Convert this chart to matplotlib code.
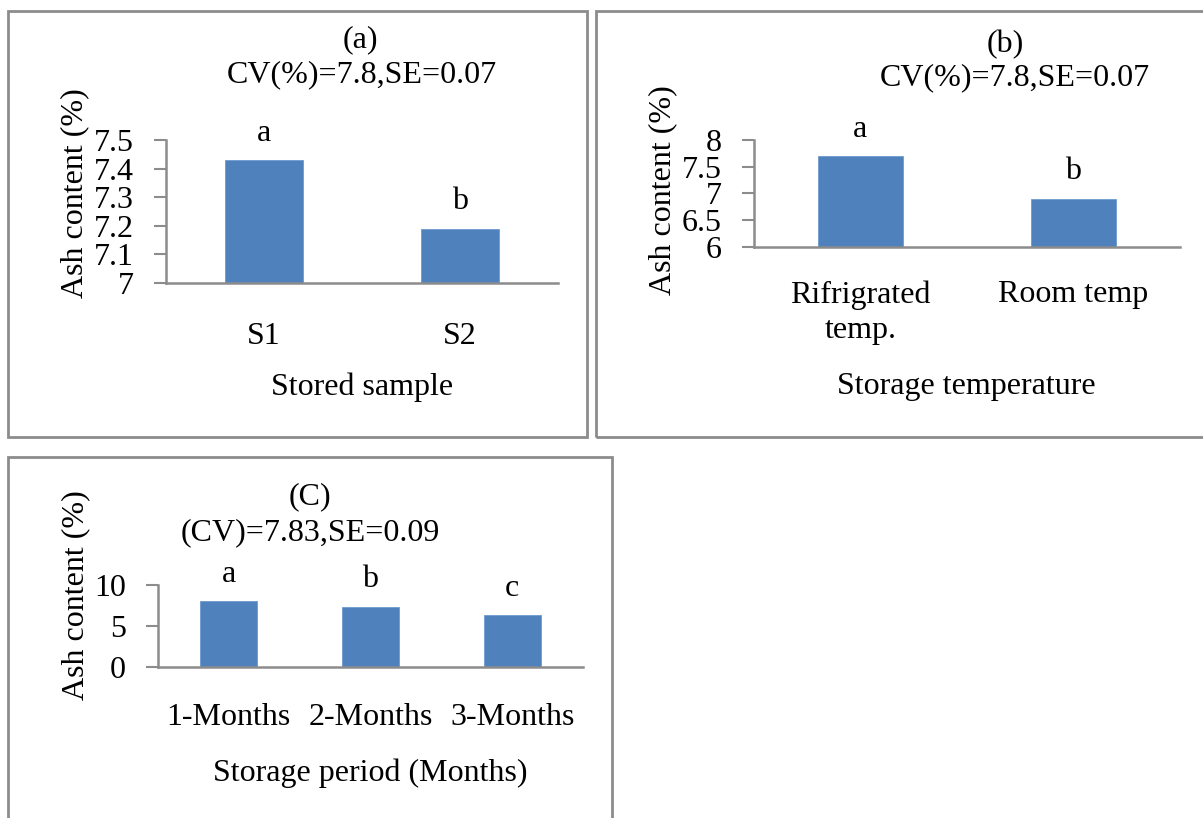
import numpy as np
import matplotlib
matplotlib.use("Agg")
import matplotlib.pyplot as plt
from matplotlib.patches import Rectangle

plt.rcParams["font.family"] = ["Liberation Serif", "DejaVu Serif"]

# panel (a) - stored sample
a_categories = ["S1", "S2"]
a_values = [7.43, 7.19]
a_letters = ["a", "b"]
a_yticks = [7, 7.1, 7.2, 7.3, 7.4, 7.5]
a_yticklabels = ["7", "7.1", "7.2", "7.3", "7.4", "7.5"]

# panel (b) - storage temperature
b_categories = ["Rifrigrated\ntemp.", "Room temp"]
b_values = [7.7, 6.9]
b_letters = ["a", "b"]
b_yticks = [6, 6.5, 7, 7.5, 8]
b_yticklabels = ["6", "6.5", "7", "7.5", "8"]

# panel (c) - storage period
c_categories = ["1-Months", "2-Months", "3-Months"]
c_values = [8.05, 7.35, 6.3]
c_letters = ["a", "b", "c"]
c_yticks = [0, 5, 10]
c_yticklabels = ["0", "5", "10"]

W, H = 1203, 818
FS = 23
BAR = "#4f81bd"
GREY = "#8c8c8c"

fig = plt.figure(figsize=(W / 100, H / 100), dpi=100)


def px(x, y):
    return x / W, 1 - y / H


def box(x0, y0, x1, y1):
    l, t = px(x0, y0)
    r, b = px(x1, y1)
    fig.patches.append(Rectangle((l, b), r - l, t - b, transform=fig.transFigure,
                                 fill=False, edgecolor=GREY, linewidth=2))


def panel(rect, cats, vals, letters, yticks, yticklabels, xpad):
    x0, y0, x1, y1 = rect
    l, t = px(x0, y0)
    r, b = px(x1, y1)
    ax = fig.add_axes([l, b, r - l, t - b])
    x = np.arange(len(cats))
    ax.bar(x, vals, 0.4, color=BAR, edgecolor="#6f9ad0", linewidth=0.6, zorder=2)
    for xi, v, s in zip(x, vals, letters):
        ax.annotate(s, (xi, v), xytext=(0, 14), textcoords="offset points",
                    ha="center", va="baseline", fontsize=FS)
    ax.set_xlim(-0.5, len(cats) - 0.5)
    ax.set_ylim(yticks[0], yticks[-1])
    ax.set_yticks(yticks)
    ax.set_yticklabels(yticklabels, fontsize=FS)
    ax.set_xticks(x)
    ax.set_xticklabels(cats, fontsize=FS, linespacing=1.3)
    for sp in ["top", "right"]:
        ax.spines[sp].set_visible(False)
    for sp in ["left", "bottom"]:
        ax.spines[sp].set_color(GREY)
        ax.spines[sp].set_linewidth(1.8)
    ax.tick_params(axis="y", length=9, width=1.5, color=GREY, pad=14)
    ax.tick_params(axis="x", length=0, pad=xpad)
    ax.set_facecolor("none")
    return ax


def label(x, y, s, **kw):
    fx, fy = px(x, y)
    fig.text(fx, fy, s, ha="center", va="center", fontsize=FS, **kw)


box(8, 11, 587, 437)
box(596, 11, 1215, 437)
box(8, 457, 612, 830)

panel((166, 140, 558, 283), a_categories, a_values, a_letters, a_yticks, a_yticklabels, 28)
panel((754, 140, 1180, 247), b_categories, b_values, b_letters, b_yticks, b_yticklabels, 24)
panel((158, 585, 583, 667), c_categories, c_values, c_letters, c_yticks, c_yticklabels, 26)

label(360, 40, "(a)")
label(362, 75, "CV(%)=7.8,SE=0.07")
label(1005, 45, "(b)")
label(1015, 78, "CV(%)=7.8,SE=0.07")
label(310, 497, "(C)")
label(310, 533, "(CV)=7.83,SE=0.09")

label(362, 387, "Stored sample")
label(966, 387, "Storage temperature")
label(370, 773, "Storage period (Months)")

label(75, 193, "Ash content (%)", rotation=90)
label(663, 190, "Ash content (%)", rotation=90)
label(76, 595, "Ash content (%)", rotation=90)

fig.savefig("out.png", dpi=100, facecolor="white")
